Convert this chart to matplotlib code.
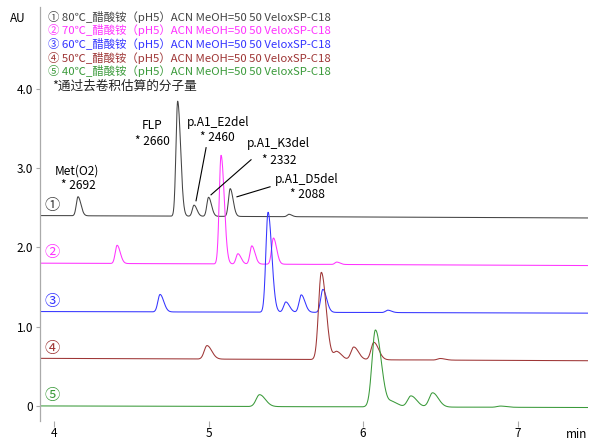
import matplotlib
matplotlib.use("Agg")
import matplotlib.pyplot as plt
import numpy as np

plt.rcParams["font.family"] = ["Noto Sans CJK SC", "DejaVu Sans"]

# peak tables: retention time (min), height (AU above baseline)
LABELS = ["80℃", "70℃", "60℃", "50℃", "40℃"]
MARKS = ["①", "②", "③", "④", "⑤"]
COLORS = ["#444444", "#ff33ff", "#3434ff", "#9e3535", "#3a9a3a"]

BASE_START = [2.40, 1.80, 1.19, 0.60, 0.00]
BASE_END = [2.37, 1.77, 1.17, 0.57, -0.02]

RT_80 = [4.155, 4.800, 4.906, 5.000, 5.140, 5.520]
H_80 = [0.24, 1.45, 0.14, 0.24, 0.35, 0.03]
RT_70 = [4.408, 5.081, 5.190, 5.280, 5.420, 5.830]
H_70 = [0.23, 1.37, 0.13, 0.23, 0.33, 0.03]
RT_60 = [4.686, 5.385, 5.500, 5.600, 5.740, 6.160]
H_60 = [0.22, 1.26, 0.13, 0.22, 0.29, 0.03]
RT_50 = [4.990, 5.730, 5.830, 5.940, 6.070, 6.500]
H_50 = [0.17, 1.10, 0.10, 0.16, 0.22, 0.02]
RT_40 = [5.330, 6.080, 6.190, 6.310, 6.450, 6.890]
H_40 = [0.15, 0.97, 0.06, 0.14, 0.18, 0.015]

RTS = [RT_80, RT_70, RT_60, RT_50, RT_40]
HS = [H_80, H_70, H_60, H_50, H_40]
SIGMA = [0.011, 0.012, 0.014, 0.018, 0.022]

LEGEND_TAIL = "_醋酸铵（pH5）ACN MeOH=50 50 VeloxSP-C18"

XMIN, XMAX = 3.909, 7.456


def trace(t, rts, hs, sig, b0, b1):
    y = b0 + (b1 - b0) * (t - XMIN) / (XMAX - XMIN)
    for rt, h in zip(rts, hs):
        s = np.where(t < rt, sig, sig * 1.7)
        y = y + h * np.exp(-0.5 * ((t - rt) / s) ** 2)
    return y


fig = plt.figure(figsize=(5.95, 4.41), dpi=100)
ax = fig.add_axes([40 / 595, 1 - 421 / 441, 548 / 595, 414 / 441])

t = np.linspace(XMIN, XMAX, 4000)
for i in range(5):
    y = trace(t, RTS[i], HS[i], SIGMA[i], BASE_START[i], BASE_END[i])
    ax.plot(t, y, color=COLORS[i], lw=0.75)
    ax.text(3.99, BASE_START[i] + 0.13, MARKS[i], color=COLORS[i],
            fontsize=11, ha="center", va="center")
    fig.text(48 / 595, 1 - (17 + 13.5 * i) / 441,
             MARKS[i] + " " + LABELS[i] + LEGEND_TAIL,
             color=COLORS[i], fontsize=8.2, va="center", ha="left")

fig.text(52 / 595, 1 - 86 / 441, "*通过去卷积估算的分子量", fontsize=9.1,
         va="center", ha="left", color="#222222")

# peak annotations
fs = 8.6
ax.text(4.149, 2.965, "Met(O2)", fontsize=fs, ha="center", va="center")
ax.text(4.155, 2.780, "* 2692", fontsize=fs, ha="center", va="center")
ax.text(4.634, 3.533, "FLP", fontsize=fs, ha="center", va="center")
ax.text(4.634, 3.330, "* 2660", fontsize=fs, ha="center", va="center")
ax.text(5.061, 3.580, "p.A1_E2del", fontsize=fs, ha="center", va="center")
ax.text(5.055, 3.380, "* 2460", fontsize=fs, ha="center", va="center")
ax.text(5.450, 3.310, "p.A1_K3del", fontsize=fs, ha="center", va="center")
ax.text(5.456, 3.100, "* 2332", fontsize=fs, ha="center", va="center")
ax.text(5.638, 2.850, "p.A1_D5del", fontsize=fs, ha="center", va="center")
ax.text(5.638, 2.660, "* 2088", fontsize=fs, ha="center", va="center")
ax.plot([4.984, 4.919], [3.256, 2.587], color="black", lw=0.8)
ax.plot([5.275, 5.016], [3.104, 2.662], color="black", lw=0.8)
ax.plot([5.398, 5.184], [2.763, 2.637], color="black", lw=0.8)

ax.set_xlim(XMIN, XMAX)
ax.set_ylim(-0.19, 5.03)
ax.set_xticks([4, 5, 6, 7])
ax.set_xticklabels(["4", "5", "6", "7"])
ax.set_yticks([0, 1, 2, 3, 4])
ax.set_yticklabels(["0", "1.0", "2.0", "3.0", "4.0"])
for s in ["top", "right", "bottom"]:
    ax.spines[s].set_visible(False)
ax.spines["left"].set_color("#aaaaaa")
ax.spines["left"].set_linewidth(0.9)
ax.tick_params(axis="x", length=4, width=0.8, color="#aaaaaa", pad=0.5, labelsize=8.5)
ax.tick_params(axis="y", length=3, width=0.8, color="#aaaaaa", pad=2, labelsize=8.5)

fig.text(18 / 595, 1 - 18 / 441, "AU", fontsize=8.5, ha="center", va="center")
fig.text(577 / 595, 1 - 435 / 441, "min", fontsize=8.5, ha="center", va="center")

fig.savefig("out.png", dpi=100)
